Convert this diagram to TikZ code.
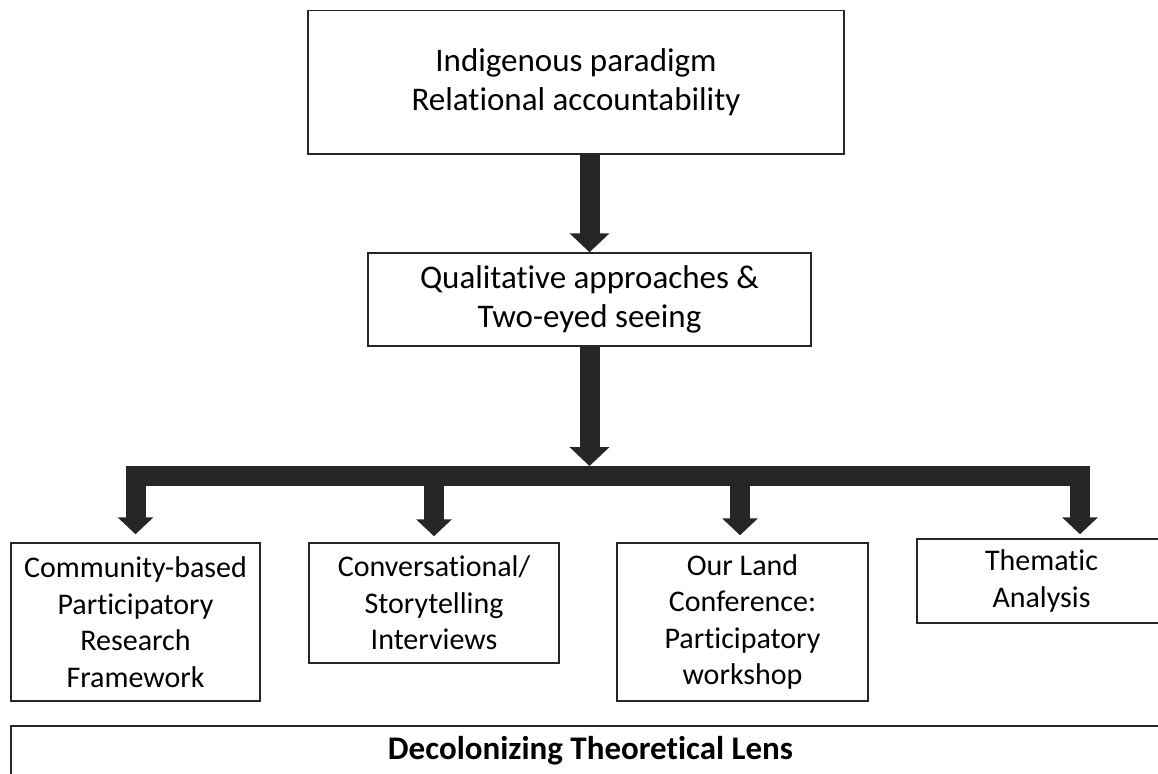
\documentclass[tikz,border=0pt]{standalone}
\usepackage{fontspec}
\setmainfont{Carlito}[Ligatures={NoCommon}]
\usetikzlibrary{arrows.meta,calc}
\definecolor{ink}{HTML}{262626}
\begin{document}
\begin{tikzpicture}[x=1pt,y=-1pt,
  box/.style={draw=ink,line width=1.5pt,inner sep=0pt,align=center,
    font=\fontsize{30}{36.6}\selectfont,text=black},
  bigtext/.style={font=\fontsize{33}{39}\selectfont},
  mainflow/.style={draw=ink,line width=20pt,line join=miter,
    -{Triangle[width=39pt,length=19pt]}},
  branchflow/.style={draw=ink,line width=20pt,line join=miter,
    -{Triangle[width=35pt,length=17pt]}}
]
\clip (0,0) rectangle (1158,773);

% upper chain
\node[box,bigtext,minimum width=536pt,minimum height=143.5pt] (top) at (576,82.25)
  {Indigenous paradigm\\Relational accountability};
\node[box,bigtext,minimum width=443pt,minimum height=93pt] (mid) at (589.5,299.5)
  {Qualitative approaches \&\\Two-eyed seeing};

% methods row
\node[box,minimum width=249pt,minimum height=158pt] (b1) at (135.5,622)
  {Community-based\\Participatory\\Research\\Framework};
\node[box,minimum width=250pt,minimum height=120pt] (b2) at (434,603)
  {Conversational/\\Storytelling\\Interviews};
\node[box,minimum width=251pt,minimum height=158pt] (b3) at (742.5,622)
  {Our Land\\Conference:\\Participatory\\workshop};
\node[box,minimum width=249pt,minimum height=84pt] (b4) at (1041.5,581)
  {Thematic\\Analysis};

% lens across the bottom
\node[box,minimum width=1159pt,minimum height=50pt,font=\fontsize{33}{39}\selectfont\bfseries]
  (lens) at (590.5,751) {Decolonizing Theoretical Lens};

% connectors
\coordinate (bary) at (0,476);
\coordinate (hub) at (mid.south |- bary);
\draw[mainflow] (mid.north |- top.south) -- (mid.north);
\draw[mainflow] (mid.south) -- ($(hub)+(0,-10)$);
\draw[branchflow] (hub) -| ($(b1.north)+(0,-8)$);
\draw[branchflow] (hub) -| ($(b2.north)+(0,-6)$);
\draw[branchflow] (hub) -| ($(b3.north)+(-2.5,-7)$);
\draw[branchflow] (hub) -| ($(b4.north)+(38.5,-4)$);
\end{tikzpicture}
\end{document}
